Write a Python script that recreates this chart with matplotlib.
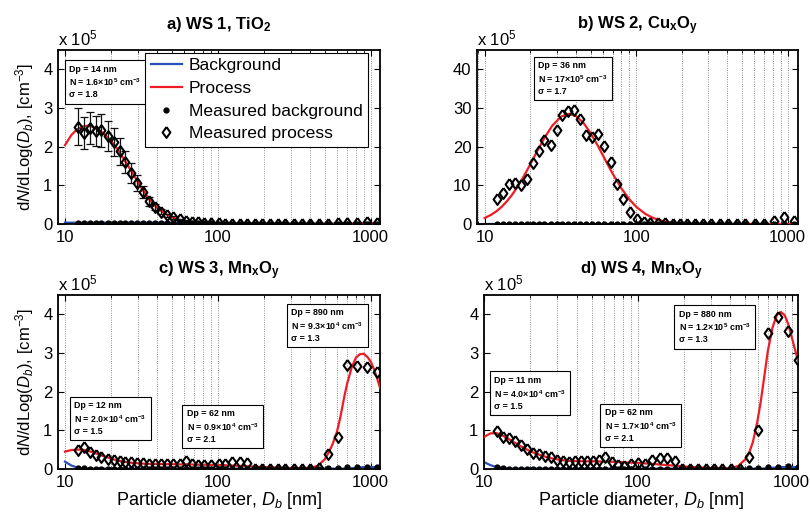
import numpy as np
import matplotlib
matplotlib.use('Agg')
import matplotlib.pyplot as plt
from matplotlib.ticker import LogLocator, NullFormatter

plt.rcParams['font.family'] = ['Liberation Sans', 'DejaVu Sans']
plt.rcParams['mathtext.fontset'] = 'custom'
plt.rcParams['mathtext.rm'] = 'Liberation Sans'
plt.rcParams['mathtext.it'] = 'Liberation Sans:italic'
plt.rcParams['mathtext.bf'] = 'Liberation Sans:bold'

# ---------------- data (concentrations in units of 1e5 cm^-3) ----------------
bin_diameters = [12.1, 13.3, 14.5, 15.9, 17.3, 19.0, 20.8, 22.8, 24.8, 27.2,
                 29.8, 32.6, 35.6, 39.0, 42.7, 46.8, 51.2, 56.3, 61.6, 67.8,
                 74.3, 81.5, 90.5, 101, 112, 124, 139, 155, 174, 194,
                 218, 246, 276, 313, 355, 402, 461, 525, 607, 699,
                 812, 945, 1100]

curve_diameters = [10, 11, 12, 13, 14, 15, 16, 18, 20, 22,
                   25, 28, 32, 36, 40, 45, 50, 56, 63, 70,
                   80, 90, 100, 115, 130, 150, 175, 200, 250, 300,
                   350, 400, 450, 500, 530, 560, 600, 630, 670, 700,
                   750, 800, 850, 900, 950, 1000, 1050, 1100, 1150]

# WS 1
ws1_process_fit = [2.04, 2.30, 2.45, 2.52, 2.54, 2.52, 2.47, 2.33, 2.15, 1.95,
                   1.60, 1.28, 0.90, 0.61, 0.42, 0.27, 0.18, 0.11, 0.07, 0.045,
                   0.025, 0.015, 0.010, 0.006, 0.004, 0.003, 0.002, 0.002, 0.002, 0.002,
                   0.002, 0.002, 0.002, 0.002, 0.002, 0.002, 0.002, 0.002, 0.002, 0.002,
                   0.002, 0.002, 0.002, 0.002, 0.002, 0.002, 0.002, 0.002, 0.002]
ws1_background_fit = [0.035, 0.035, 0.035, 0.035, 0.035, 0.035, 0.035, 0.035, 0.035, 0.035,
                      0.035, 0.035, 0.035, 0.035, 0.035, 0.035, 0.035, 0.03, 0.03, 0.025,
                      0.02, 0.02, 0.015, 0.015, 0.01, 0.01, 0.01, 0.01, 0.01, 0.01,
                      0.01, 0.01, 0.01, 0.01, 0.01, 0.01, 0.01, 0.01, 0.01, 0.01,
                      0.01, 0.01, 0.01, 0.01, 0.01, 0.01, 0.01, 0.01, 0.01]
ws1_measured_process = [2.52, 2.36, 2.48, 2.40, 2.42, 2.27, 2.13, 1.88, 1.60, 1.33,
                        1.06, 0.82, 0.59, 0.44, 0.32, 0.23, 0.17, 0.12, 0.09, 0.06,
                        0.045, 0.03, 0.02, 0.015, 0.01, 0.01, 0.01, 0.01, 0.01, 0.01,
                        0.01, 0.01, 0.01, 0.01, 0.01, 0.01, 0.01, 0.01, 0.02, 0.02,
                        0.02, 0.04, 0.02]
ws1_process_error = [0.47, 0.42, 0.42, 0.39, 0.42, 0.39, 0.36, 0.35, 0.28, 0.26,
                     0.20, 0.16, 0.12, 0.08, 0.06, 0.04, 0.03, 0.02, 0.02, 0.01,
                     0.01, 0.0, 0.0, 0.0, 0.0, 0.0, 0.0, 0.0, 0.0, 0.0,
                     0.0, 0.0, 0.0, 0.0, 0.0, 0.0, 0.0, 0.0, 0.0, 0.0,
                     0.0, 0.0, 0.0]
ws1_measured_background = [0.02, 0.02, 0.02, 0.02, 0.02, 0.02, 0.02, 0.02, 0.02, 0.02,
                           0.02, 0.02, 0.02, 0.02, 0.02, 0.02, 0.02, 0.02, 0.02, 0.02,
                           0.02, 0.02, 0.02, 0.01, 0.01, 0.01, 0.01, 0.01, 0.01, 0.01,
                           0.01, 0.01, 0.01, 0.01, 0.01, 0.01, 0.01, 0.01, 0.01, 0.01,
                           0.01, 0.01, 0.01]

# WS 2
ws2_process_fit = [1.55, 2.35, 3.34, 4.51, 5.85, 7.30, 8.86, 12.14, 15.42, 18.52,
                   22.50, 25.48, 27.80, 28.50, 27.94, 26.09, 23.53, 20.15, 16.34, 13.0,
                   9.18, 6.42, 4.46, 2.60, 1.53, 0.77, 0.34, 0.15, 0.04, 0.01,
                   0.0, 0.0, 0.0, 0.0, 0.0, 0.0, 0.0, 0.0, 0.0, 0.0,
                   0.0, 0.0, 0.0, 0.0, 0.0, 0.0, 0.0, 0.0, 0.0]
ws2_background_fit = [0.05, 0.05, 0.05, 0.05, 0.05, 0.05, 0.05, 0.05, 0.05, 0.05,
                      0.05, 0.05, 0.05, 0.05, 0.05, 0.05, 0.05, 0.05, 0.05, 0.05,
                      0.05, 0.05, 0.05, 0.05, 0.05, 0.05, 0.05, 0.05, 0.05, 0.05,
                      0.05, 0.05, 0.05, 0.05, 0.05, 0.05, 0.05, 0.05, 0.05, 0.05,
                      0.05, 0.05, 0.05, 0.05, 0.05, 0.05, 0.05, 0.05, 0.05]
ws2_measured_process = [6.4, 8.1, 10.4, 10.6, 10.2, 11.6, 15.8, 19.0, 21.6, 20.4,
                        24.2, 28.1, 29.3, 29.5, 27.2, 22.9, 22.6, 23.3, 20.1, 16.0,
                        10.4, 6.5, 3.1, 1.2, 0.4, 0.3, 0.2, 0.15, 0.1, 0.1,
                        0.1, 0.1, 0.1, 0.1, 0.1, 0.1, 0.1, 0.1, 0.1, 0.1,
                        0.7, 1.9, 0.8]
ws2_measured_background = [0.05, 0.05, 0.05, 0.05, 0.05, 0.05, 0.05, 0.05, 0.05, 0.05,
                           0.05, 0.05, 0.05, 0.05, 0.05, 0.05, 0.05, 0.05, 0.05, 0.05,
                           0.05, 0.05, 0.05, 0.05, 0.05, 0.05, 0.05, 0.05, 0.05, 0.05,
                           0.05, 0.05, 0.05, 0.05, 0.05, 0.05, 0.05, 0.05, 0.05, 0.05,
                           0.05, 0.05, 0.05]

# WS 3
ws3_process_fit = [0.45, 0.49, 0.50, 0.50, 0.47, 0.44, 0.40, 0.33, 0.27, 0.22,
                   0.18, 0.155, 0.14, 0.13, 0.13, 0.125, 0.125, 0.12, 0.12, 0.115,
                   0.11, 0.105, 0.10, 0.095, 0.085, 0.075, 0.06, 0.05, 0.035, 0.025,
                   0.02, 0.03, 0.08, 0.25, 0.42, 0.62, 0.95, 1.30, 1.85, 2.20,
                   2.62, 2.88, 2.97, 2.98, 2.90, 2.78, 2.58, 2.35, 2.10]
ws3_background_fit = [0.19, 0.09, 0.04, 0.02, 0.015, 0.01, 0.01, 0.01, 0.01, 0.01,
                      0.01, 0.01, 0.01, 0.01, 0.01, 0.01, 0.01, 0.01, 0.01, 0.01,
                      0.01, 0.01, 0.01, 0.01, 0.01, 0.01, 0.01, 0.01, 0.01, 0.01,
                      0.01, 0.01, 0.01, 0.01, 0.01, 0.01, 0.01, 0.01, 0.01, 0.015,
                      0.02, 0.03, 0.04, 0.05, 0.05, 0.05, 0.05, 0.05, 0.05]
ws3_measured_process = [0.50, 0.56, 0.43, 0.36, 0.30, 0.26, 0.23, 0.20, 0.18, 0.17,
                        0.16, 0.15, 0.14, 0.14, 0.14, 0.13, 0.13, 0.14, 0.21, 0.12,
                        0.11, 0.10, 0.11, 0.12, 0.14, 0.17, 0.19, 0.15, 0.01, 0.01,
                        0.01, 0.01, 0.01, 0.01, 0.01, 0.01, 0.02, 0.40, 0.82, 2.70,
                        2.66, 2.63, 2.52]
ws3_measured_background = [0.03, 0.02, 0.01, 0.01, 0.01, 0.01, 0.01, 0.01, 0.01, 0.01,
                           0.01, 0.01, 0.01, 0.01, 0.01, 0.01, 0.01, 0.01, 0.01, 0.01,
                           0.01, 0.01, 0.01, 0.01, 0.01, 0.01, 0.01, 0.01, 0.01, 0.01,
                           0.01, 0.01, 0.01, 0.01, 0.01, 0.01, 0.01, 0.02, 0.03, 0.04,
                           0.06, 0.06, 0.05]

# WS 4
ws4_process_fit = [0.83, 0.92, 0.93, 0.88, 0.81, 0.74, 0.67, 0.55, 0.46, 0.39,
                   0.32, 0.27, 0.23, 0.21, 0.205, 0.20, 0.20, 0.195, 0.19, 0.185,
                   0.175, 0.165, 0.155, 0.14, 0.125, 0.105, 0.085, 0.065, 0.04, 0.025,
                   0.015, 0.02, 0.08, 0.25, 0.42, 0.70, 1.25, 1.75, 2.50, 3.05,
                   3.65, 3.98, 4.06, 3.98, 3.75, 3.42, 3.10, 2.80, 2.50]
ws4_background_fit = [0.18, 0.10, 0.05, 0.03, 0.02, 0.01, 0.01, 0.01, 0.01, 0.01,
                      0.01, 0.01, 0.01, 0.01, 0.01, 0.01, 0.01, 0.01, 0.01, 0.01,
                      0.01, 0.01, 0.01, 0.01, 0.01, 0.01, 0.01, 0.01, 0.01, 0.01,
                      0.01, 0.01, 0.01, 0.01, 0.01, 0.01, 0.01, 0.01, 0.015, 0.02,
                      0.03, 0.04, 0.05, 0.05, 0.05, 0.05, 0.05, 0.05, 0.05]
ws4_measured_process = [0.99, 0.83, 0.79, 0.73, 0.62, 0.51, 0.42, 0.39, 0.33, 0.30,
                        0.23, 0.21, 0.19, 0.21, 0.21, 0.21, 0.21, 0.22, 0.32, 0.18,
                        0.10, 0.09, 0.12, 0.15, 0.13, 0.24, 0.28, 0.28, 0.20, 0.01,
                        0.01, 0.01, 0.01, 0.01, 0.01, 0.01, 0.01, 0.32, 1.01, 3.51,
                        3.94, 3.58, 2.83]
ws4_measured_background = [0.04, 0.02, 0.01, 0.01, 0.01, 0.01, 0.01, 0.01, 0.01, 0.01,
                           0.01, 0.01, 0.01, 0.01, 0.01, 0.01, 0.01, 0.01, 0.01, 0.01,
                           0.01, 0.01, 0.01, 0.01, 0.01, 0.01, 0.01, 0.01, 0.01, 0.01,
                           0.01, 0.01, 0.01, 0.01, 0.01, 0.01, 0.01, 0.02, 0.03, 0.05,
                           0.06, 0.07, 0.06]

titles = [r"a) WS 1, TiO$_\mathbf{2}$",
          r"b) WS 2, Cu$_\mathbf{x}$O$_\mathbf{y}$",
          r"c) WS 3, Mn$_\mathbf{x}$O$_\mathbf{y}$",
          r"d) WS 4, Mn$_\mathbf{x}$O$_\mathbf{y}$"]

fit_boxes = [
    [("Dp = 14 nm", "1.6", "5", "1.8")],
    [("Dp = 36 nm", "17", "5", "1.7")],
    [("Dp = 12 nm", "2.0", "4", "1.5"), ("Dp = 62 nm", "0.9", "4", "2.1"),
     ("Dp = 890 nm", "9.3", "4", "1.3")],
    [("Dp = 11 nm", "4.0", "4", "1.5"), ("Dp = 62 nm", "1.7", "4", "2.1"),
     ("Dp = 880 nm", "1.2", "5", "1.3")],
]
box_positions = [
    [(0.035, 0.915)],
    [(0.190, 0.935)],
    [(0.050, 0.390), (0.400, 0.345), (0.725, 0.925)],
    [(0.032, 0.535), (0.385, 0.350), (0.620, 0.915)],
]

panels = [
    (ws1_process_fit, ws1_background_fit, ws1_measured_process, ws1_measured_background, ws1_process_error),
    (ws2_process_fit, ws2_background_fit, ws2_measured_process, ws2_measured_background, None),
    (ws3_process_fit, ws3_background_fit, ws3_measured_process, ws3_measured_background, None),
    (ws4_process_fit, ws4_background_fit, ws4_measured_process, ws4_measured_background, None),
]

# ---------------- figure ----------------
W, H = 810, 512
fig = plt.figure(figsize=(8.1, 5.12), dpi=100)
rects = [(58, 50, 322, 174), (477, 50, 321, 174), (58, 295, 322, 174), (484, 295, 314, 174)]
xlims = [(9.0, 1150), (8.9, 1170), (9.0, 1150), (10.0, 1100)]
ylims = [(0, 4.5), (0, 45), (0, 4.5), (0, 4.5)]
yticks = [[0, 1, 2, 3, 4], [0, 10, 20, 30, 40], [0, 1, 2, 3, 4], [0, 1, 2, 3, 4]]

diamond = [(0, 1), (0.72, 0), (0, -1), (-0.72, 0), (0, 1)]
blue = '#2a4fb5'
red = '#ee1c24'

for i, (proc, bg, mproc, mbg, err) in enumerate(panels):
    l, t, w, h = rects[i]
    ax = fig.add_axes([l / W, 1 - (t + h) / H, w / W, h / H])
    ax.set_xscale('log')
    ax.plot(curve_diameters, bg, color=blue, lw=1.6, label='Background', zorder=2)
    ax.plot(curve_diameters, proc, color=red, lw=1.6, label='Process', zorder=3)
    if err is not None:
        ax.errorbar(bin_diameters, mproc, yerr=err, fmt='none', ecolor='#111111',
                    elinewidth=0.9, capsize=2.6, capthick=0.9, zorder=4)
    ax.plot(bin_diameters, mbg, ls='none', marker='o', ms=3.5, color='black',
            label='Measured background', zorder=5)
    ax.plot(bin_diameters, mproc, ls='none', marker=diamond, ms=7.8, mfc='none',
            mec='black', mew=1.5, label='Measured process', zorder=6)

    ax.set_xlim(*xlims[i])
    ax.set_ylim(*ylims[i])
    ax.set_xticks([10, 100, 1000])
    ax.set_xticklabels(['10', '100', '1000'])
    ax.xaxis.set_minor_locator(LogLocator(base=10, subs=np.arange(2, 10)))
    ax.xaxis.set_minor_formatter(NullFormatter())
    ax.set_yticks(yticks[i])
    ax.set_yticklabels([str(v) for v in yticks[i]])
    ax.tick_params(which='both', direction='in', top=True, right=True,
                   labelsize=12, pad=4)
    ax.tick_params(which='major', length=4, width=0.8)
    ax.tick_params(which='minor', length=2, width=0.6)
    ax.grid(True, which='both', axis='x', linestyle=(0, (1, 2)), color='#555555', lw=0.55)
    for s in ax.spines.values():
        s.set_linewidth(1.3)

    ax.set_title(titles[i], fontsize=12, fontweight='bold', pad=15)
    ax.text(0.0, 1.012, r"x 10$^{5}$", transform=ax.transAxes, ha='left', va='bottom',
            fontsize=12)
    if i in (0, 2):
        ax.set_ylabel(r"d$N$/dLog($D_b$), [cm$^{-3}$]", fontsize=12, labelpad=5)
    if i in (2, 3):
        ax.set_xlabel(r"Particle diameter, $D_b$ [nm]", fontsize=13, labelpad=0)

    for (dp, nval, nexp, sig), (bx, by) in zip(fit_boxes[i], box_positions[i]):
        txt = (dp + "\n" + r"N = " + nval + r"$\mathbf{\times 10^{" + nexp + r"}}$ cm$\mathbf{^{-3}}$"
               + "\n" + "\u03c3 = " + sig)
        ax.text(bx, by, txt, transform=ax.transAxes, ha='left', va='top',
                fontsize=6.4, fontweight='bold', linespacing=1.3, zorder=8,
                bbox=dict(boxstyle='square,pad=0.5', fc='white', ec='black', lw=0.8))

    if i == 0:
        leg = ax.legend(loc='upper right', bbox_to_anchor=(0.963, 0.983), borderaxespad=0,
                        fontsize=12.6, frameon=True, fancybox=False, framealpha=1,
                        edgecolor='black', handlelength=1.8, handletextpad=0.4,
                        labelspacing=0.42, borderpad=0.3)
        leg.get_frame().set_linewidth(0.8)
        leg.set_zorder(9)

fig.savefig('out.png', dpi=100)
